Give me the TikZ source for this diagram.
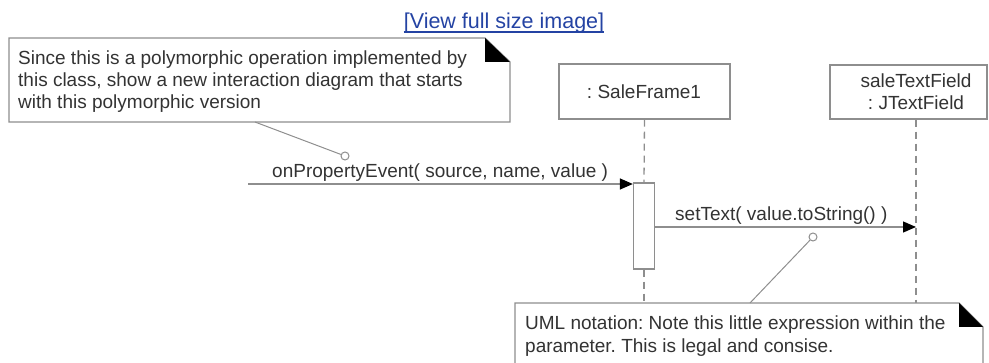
\documentclass[tikz,border=0pt]{standalone}
\usepackage{fontspec}
\setmainfont{Liberation Sans}
\usetikzlibrary{arrows.meta}
\frenchspacing
\definecolor{txt}{HTML}{333333}
\definecolor{ln}{HTML}{8E8E8E}
\definecolor{linkc}{HTML}{2443A3}
\tikzset{
  lbl/.style={inner sep=0pt, text=txt, font=\fontsize{19}{22.5}\selectfont},
  notebox/.style={draw=ln, line width=1.3pt, fill=white},
  objbox/.style={draw=ln, line width=1.3pt, fill=white, inner sep=0pt},
  life/.style={draw=ln, line width=1.3pt, dash pattern=on 7pt off 5pt},
  msg/.style={draw=ln, line width=1.3pt, -{Triangle[length=13pt,width=11pt,color=black,fill=black]}},
  anchorline/.style={draw=ln, line width=1pt},
  anchordot/.style={circle, draw=ln, line width=1pt, fill=white, inner sep=0pt, minimum size=8pt},
}
\begin{document}
\begin{tikzpicture}[x=1pt,y=-1pt]
\useasboundingbox (0,0) rectangle (989,363);
\clip (0,0) rectangle (989,363);

% link text
\node[inner sep=0pt, anchor=base, text=linkc, font=\fontsize{21.5}{24}\selectfont] (link) at (504,29) {[View full size image]};
\draw[linkc, line width=1.2pt] (link.base west) ++(0,3) -- ([yshift=-3pt]link.base east);

% objects
\node[objbox, minimum width=171pt, minimum height=55pt] (sf) at (644.5,91.5) {};
\node[lbl, anchor=base] (sft) at (644,99) {: SaleFrame1};
\node[objbox, minimum width=157pt, minimum height=54pt] (tf) at (908.5,92) {};
\node[lbl, anchor=base, align=center] (tft) at (916,110) {saleTextField\\: JTextField};

% activation
\node[objbox, minimum width=21pt, minimum height=86pt] (act) at (644,226) {};

% note anchors on top of lifelines
\coordinate (n2t) at (515,303);

% lifelines
\draw[life] (sf.south) -- (act.north);
\draw[life] (act.south) -- (act.south |- n2t);
\draw[life] (tf.south -| tft) -- (tft |- n2t);

% messages
\coordinate (src) at (248,184);
\draw[msg] (src) -- (src -| act.west);
\node[lbl, anchor=base west] (m1) at (272,178) {onPropertyEvent( source, name, value )};
\coordinate (m2s) at (654,227);
\draw[msg] (m2s) -- (m2s -| tft);
\node[lbl, anchor=base west] (m2) at (675,221) {setText( value.toString() )};

% top note
\draw[notebox] (9,38) -- (485,38) -- (510,62) -- (510,122) -- (9,122) -- cycle;
\fill[black] (485,38) -- (510,62) -- (485,62) -- cycle;
\node[lbl, anchor=base west] (n1l1) at (18,64.5) {Since this is a polymorphic operation implemented by};
\node[lbl, anchor=base west] (n1l2) at (18,86.5) {this class, show a new interaction diagram that starts};
\node[lbl, anchor=base west] (n1l3) at (18,108.5) {with this polymorphic version};
\coordinate (n1a) at (255,122);
\node[anchordot] (c1) at (345,156) {};
\draw[anchorline] (n1a) -- (c1);

% bottom note
\draw[notebox] (515,303) -- (959,303) -- (983,327) -- (983,380) -- (515,380) -- cycle;
\fill[black] (959,303) -- (983,327) -- (959,327) -- cycle;
\node[lbl, anchor=base west] (n2l1) at (525,330) {UML notation: Note this little expression within the};
\node[lbl, anchor=base west] (n2l2) at (525,353) {parameter. This is legal and consise.};
\coordinate (n2a) at (750,303);
\node[anchordot] (c2) at (813,237) {};
\draw[anchorline] (n2a) -- (c2);
\end{tikzpicture}
\end{document}
